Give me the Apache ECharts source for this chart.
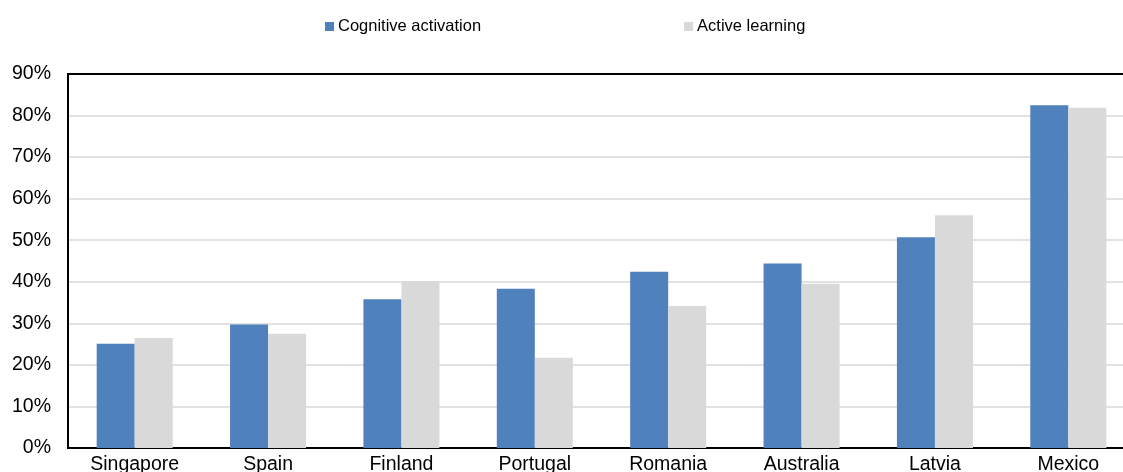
<!DOCTYPE html>
<html>
<head>
<meta charset="utf-8">
<script src="https://cdn.jsdelivr.net/npm/echarts@6/dist/echarts.min.js"></script>
<style>html,body{margin:0;padding:0;background:#fff;}#c{width:1123px;height:472px;}</style>
</head>
<body>
<div id="c"></div>
<script>
var categories = ['Singapore', 'Spain', 'Finland', 'Portugal', 'Romania', 'Australia', 'Latvia', 'Mexico'];
var cognitiveActivation = [25.1, 29.7, 35.8, 38.3, 42.4, 44.4, 50.7, 82.5];
var activeLearning = [26.5, 27.5, 40.2, 21.7, 34.2, 39.5, 56.0, 81.9];
var seriesNames = ['Cognitive activation', 'Active learning'];

var chart = echarts.init(document.getElementById('c'), null, {renderer: 'canvas'});
var font = 'Liberation Sans, Arial, sans-serif';
chart.setOption({
  animation: false,
  backgroundColor: '#fff',
  legend: {
    left: 320, top: 13,
    itemWidth: 9, itemHeight: 9, itemGap: 203,
    icon: 'rect',
    textStyle: {fontFamily: font, fontSize: 16.5, color: '#000', padding: [0, 0, 0, -1]},
    data: seriesNames
  },
  grid: {
    left: 68, width: 1067, top: 74, height: 374,
    outerBoundsMode: 'none', containLabel: false,
    show: true, borderColor: '#000', borderWidth: 2, backgroundColor: 'transparent'
  },
  xAxis: {
    type: 'category',
    data: categories,
    axisLine: {show: true, lineStyle: {color: '#000', width: 2}},
    axisTick: {show: false},
    axisLabel: {fontFamily: font, fontSize: 19.5, color: '#000', margin: 7}
  },
  yAxis: {
    type: 'value',
    min: 0, max: 90, interval: 10,
    axisLine: {show: true, lineStyle: {color: '#000', width: 2}},
    axisTick: {show: false},
    splitLine: {showMaxLine: false, showMinLine: false, lineStyle: {color: '#d9d9d9', width: 1.5}},
    axisLabel: {fontFamily: font, fontSize: 19.5, color: '#000', margin: 17, formatter: '{value}%'}
  },
  series: [
    {name: seriesNames[0], type: 'bar', data: cognitiveActivation, barGap: '0%', barCategoryGap: '43%',
     itemStyle: {color: '#4f81bd'}},
    {name: seriesNames[1], type: 'bar', data: activeLearning, barGap: '0%', barCategoryGap: '43%',
     itemStyle: {color: '#d9d9d9'}}
  ]
});
</script>
</body>
</html>
